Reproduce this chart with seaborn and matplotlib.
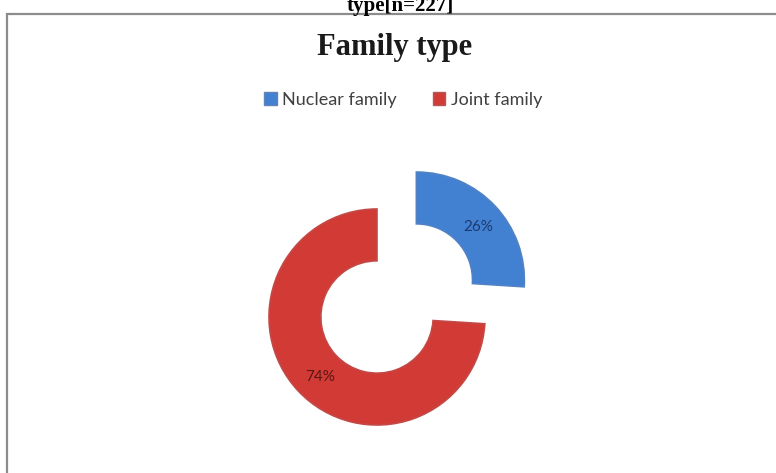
import matplotlib
matplotlib.use("Agg")
import matplotlib.pyplot as plt
import seaborn as sns
from matplotlib.patches import Rectangle

sns.set_theme(style="white")

# Data
categories = ["Nuclear family", "Joint family"]
shares = [26, 74]
pct_labels = ["26%", "74%"]
colors = ["#4280D2", "#D23A36"]
label_colors = ["#1E3A6E", "#5A1714"]

W, H = 776, 473
fig = plt.figure(figsize=(W / 100, H / 100), dpi=100)
fig.patch.set_facecolor("white")

# Outer frame of the chart panel
frame = Rectangle((7 / W, -0.05), 1.2, (H - 14) / H + 0.05, transform=fig.transFigure,
                  fill=False, edgecolor="#8c8c8c", linewidth=1.6, clip_on=False)
fig.patches.append(frame)

# Caption running off the top edge
fig.text(400 / W, 1 - 11 / H, "type[n=227]", ha="center", va="baseline",
         fontsize=15, fontweight="bold", family="Liberation Serif", color="black")

# Title
fig.text(395 / W, 1 - 47 / H, "Family type", ha="center", va="center",
         fontsize=22, fontweight="bold", family="Liberation Serif", color="#1a1a1a")

# Donut axes: centre at (377, 317) px, radius 108 px
R = 108
lim = 1.6
size = 2 * lim * R
cx, cy = 377, H - 317
ax = fig.add_axes([(cx - size / 2) / W, (cy - size / 2) / H, size / W, size / H])

wedges, texts = ax.pie(shares, colors=colors, startangle=90, counterclock=False,
                       explode=[0.5, 0.0], radius=1.0,
                       wedgeprops=dict(width=0.48, edgecolor="none", clip_on=False))
ax.set_xlim(-lim, lim)
ax.set_ylim(-lim, lim)
ax.set_aspect("equal")
ax.axis("off")
for w, c in zip(wedges, colors):
    # darker bevel rim
    w.set_edgecolor(sns.desaturate(c, 0.8))
    w.set_linewidth(1.2)

ax.text(0.94, 0.83, pct_labels[0], ha="center", va="center", fontsize=11,
        family="Lato", color=label_colors[0])
ax.text(-0.53, -0.56, pct_labels[1], ha="center", va="center", fontsize=11,
        family="Lato", color=label_colors[1])

# Legend
handles = [Rectangle((0, 0), 1, 1, facecolor=c, edgecolor=sns.desaturate(c, 0.6)) for c in colors]
leg = fig.legend(handles, categories, loc="center", bbox_to_anchor=(403 / W, 1 - 100 / H),
                 ncol=2, frameon=False, handlelength=0.7, handleheight=0.7,
                 handletextpad=0.3, columnspacing=2.0,
                 prop=dict(family="Lato", size=13))
for t in leg.get_texts():
    t.set_color("#404040")

fig.savefig("out.png", dpi=100, facecolor="white")
